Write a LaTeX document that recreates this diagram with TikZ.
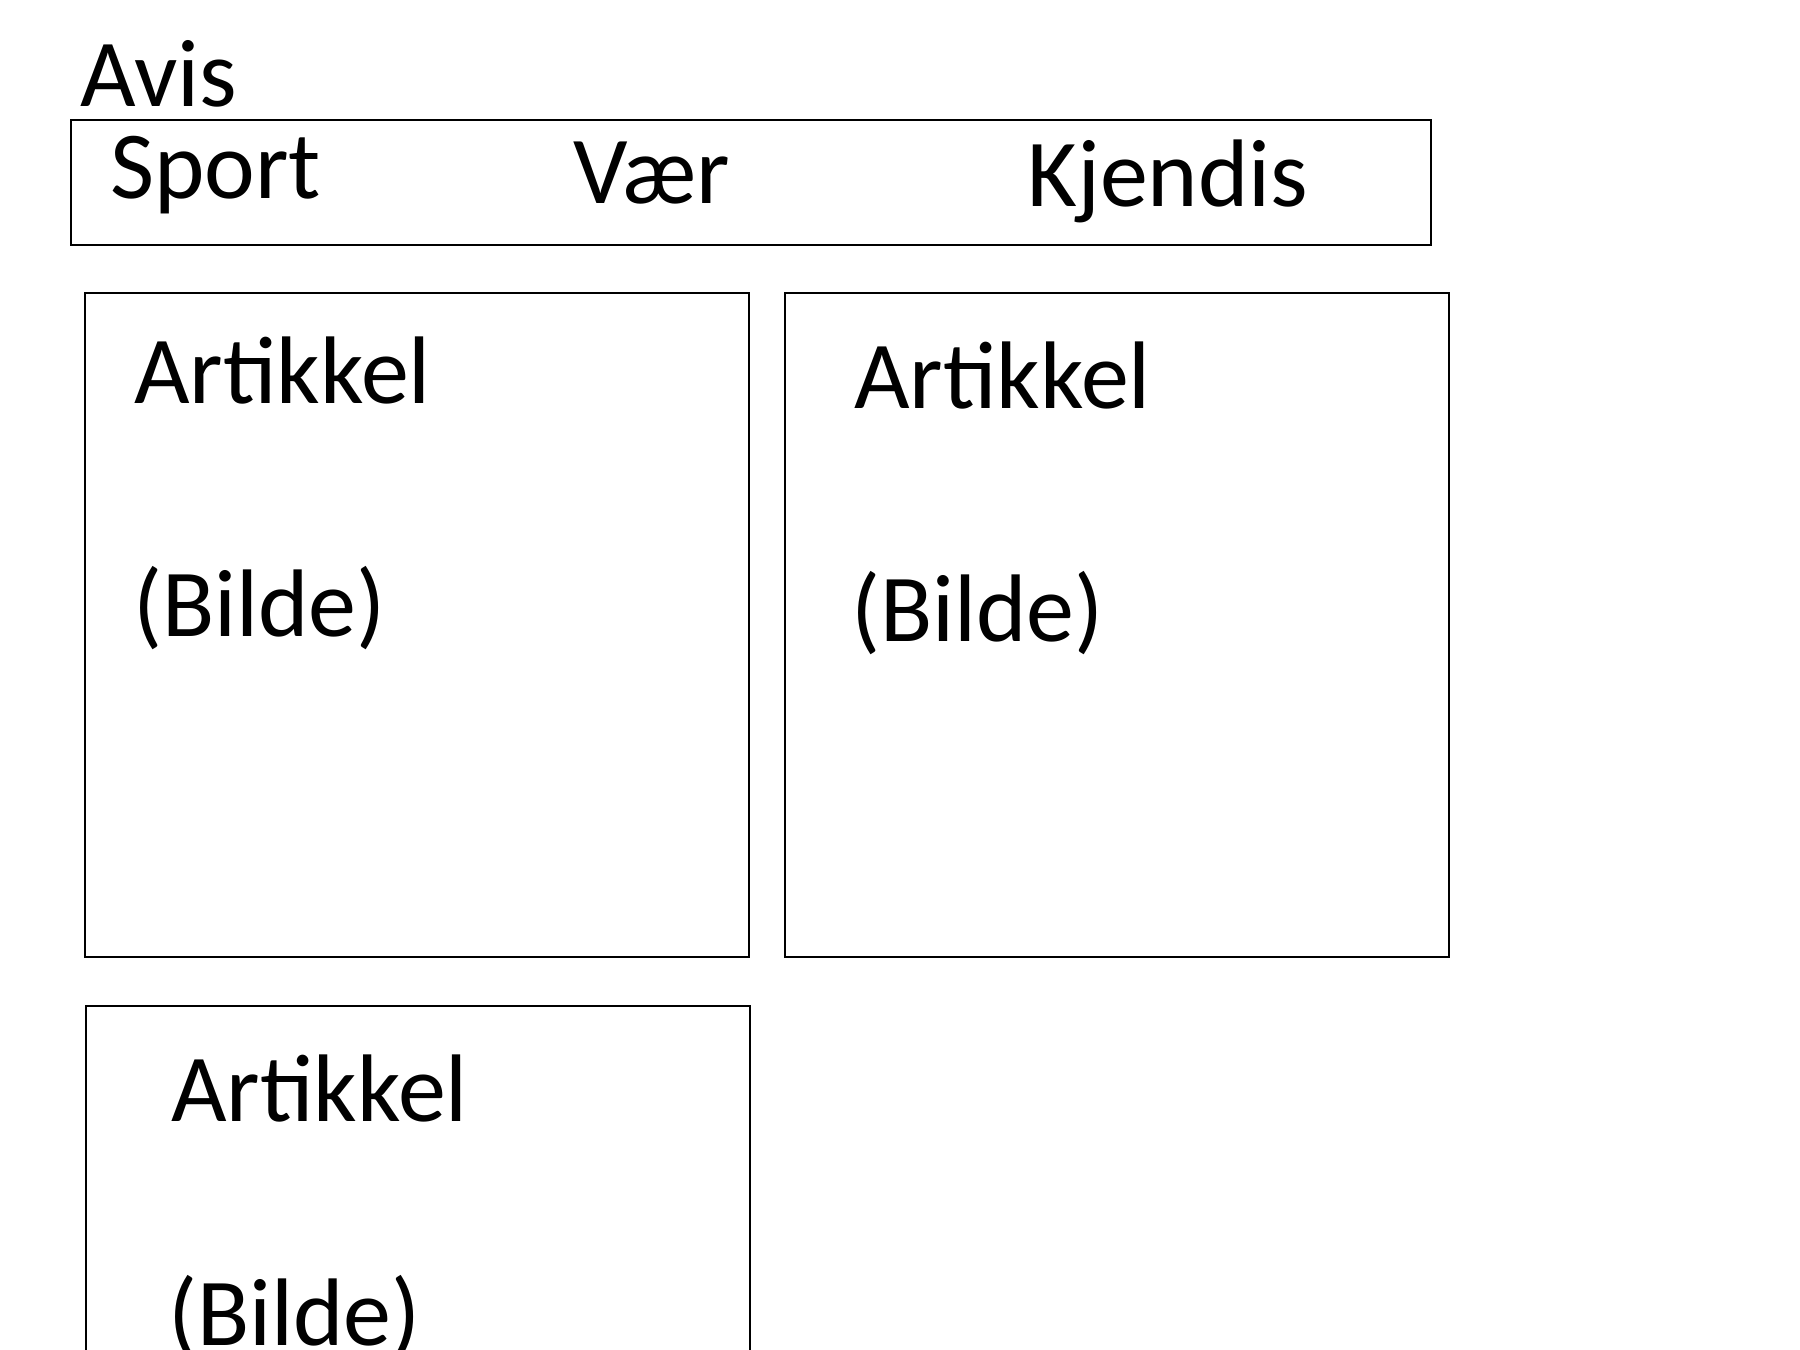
\documentclass[tikz,border=0pt]{standalone}
\usepackage{fontspec}
\setmainfont{Carlito}
\usepackage{tikz}

\begin{document}
\begin{tikzpicture}[x=0.25pt, y=-0.25pt, line width=0.6pt, box/.style = {draw, rectangle, inner sep=0pt, anchor=north west, minimum width=166pt, minimum height=166pt}, txt/.style = {anchor=base west, inner sep=0pt, font=\fontsize{24}{29}\selectfont}]
    \clip (0,0) rectangle (1800,1350);
    \node[txt] (avis) at (79,106) {Avis};
    \node[box, minimum width=340pt, minimum height=31.25pt] (meny) at (70,119) {};
    \node[txt] (sport) at (109,198) {Sport};
    \node[txt] (vaer) at (572,203) {Vær};
    \node[txt] (kjendis) at (1026,206) {Kjendis};
    \node[box] (a1) at (84,292) {};
    \node[box] (a2) at (784,292) {};
    \node[box] (a3) at (84.5,1005) {};
    \node[txt] (art1) at (133,403) {Artikkel};
    \node[txt] (bil1) at (132,636) {(Bilde)};
    \node[txt] (art2) at (853,408) {Artikkel};
    \node[txt] (bil2) at (850,641) {(Bilde)};
    \node[txt] (art3) at (170,1121) {Artikkel};
    \node[txt] (bil3) at (167,1345) {(Bilde)};
\end{tikzpicture}
\end{document}
